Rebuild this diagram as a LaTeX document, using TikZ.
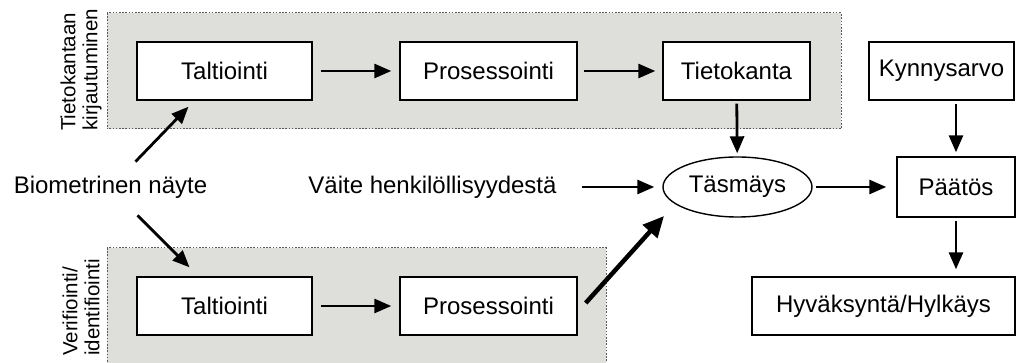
\documentclass[tikz,border=0pt]{standalone}
\usepackage{fontspec}
\setmainfont{Liberation Sans}
\usetikzlibrary{arrows.meta,shapes.geometric,calc}
\definecolor{panelgray}{RGB}{222,222,218}
\definecolor{panelline}{RGB}{90,90,90}
\tikzset{
  txt/.style={font=\fontsize{24}{28}\selectfont, inner sep=0pt},
  procbox/.style={draw, line width=1.4pt, fill=white, minimum height=58pt, inner sep=0pt, font=\fontsize{24}{28}\selectfont},
  panel/.style={fill=panelgray, draw=panelline, line width=1pt, dash pattern=on 1.6pt off 1.6pt},
  sidelabel/.style={rotate=90, anchor=west, align=left, inner sep=0pt, font=\fontsize{20.5}{22}\selectfont},
  arr/.style={line width=2.8pt, -{Triangle[length=17pt,width=14pt]}},
  thickarr/.style={line width=4.5pt, -{Triangle[length=21pt,width=19pt]}}
}
\begin{document}
\begin{tikzpicture}[x=1pt,y=-1pt]
\useasboundingbox (0,0) rectangle (1021,363);
\clip (0,0) rectangle (1021,363);
% panels
\draw[panel] (107,13) rectangle (841,129);
\draw[panel] (107,248) rectangle (606,375);
% side labels
\node[sidelabel] (lab1) at (81,131) {Tietokantaan\\kirjautuminen};
\node[sidelabel] (lab2) at (81,356) {Verifiointi/\\identifiointi};
% top row
\node[procbox, minimum width=175pt] (t1) at (224.5,71) {Taltiointi};
\node[procbox, minimum width=177pt] (p1) at (488.5,71) {Prosessointi};
\node[procbox, minimum width=147pt] (tk) at (736.5,71) {Tietokanta};
\node[procbox, minimum width=145pt] (ky) at (941.5,71) {Kynnysarvo};
% bottom row
\node[procbox, minimum width=175pt] (t2) at (224.5,306) {Taltiointi};
\node[procbox, minimum width=177pt] (p2) at (488.5,306) {Prosessointi};
\node[procbox, minimum width=263pt] (hy) at (883.5,306) {Hyväksyntä/Hylkäys};
% middle row
\node[txt] (bio) at (110.5,187) {Biometrinen näyte};
\node[txt] (vai) at (432.5,187) {Väite henkilöllisyydestä};
\node[draw, ellipse, line width=1.4pt, fill=white, minimum width=149pt, minimum height=60pt, inner sep=0pt, font=\fontsize{24}{28}\selectfont] (ta) at (737.5,187) {Täsmäys};
\node[procbox, minimum width=118pt, minimum height=60pt] (pa) at (956,187) {Päätös};
% coordinates for diagonal connectors
\coordinate (b1s) at ($(bio.north)+(25,-14)$);
\coordinate (b1e) at ($(t1.south)+(-36,6)$);
\coordinate (b2s) at ($(bio.south)+(27,17)$);
\coordinate (b2e) at ($(t2.north)+(-35,-9)$);
\coordinate (p2s) at ($(p2.east)+(8,-3)$);
\coordinate (tae) at (664,216);
% connectors
\draw[arr, shorten <=8pt, shorten >=8pt] (t1) -- (p1);
\draw[arr, shorten <=6pt, shorten >=7pt] (p1) -- (tk);
\draw[arr, shorten <=8pt, shorten >=8pt] (t2) -- (p2);
\draw[arr, shorten <=3pt, shorten >=3pt] (tk) -- (ta);
\draw[arr, shorten <=3pt, shorten >=4pt] (ky.south -| pa.north) -- (pa.north);
\draw[arr, shorten <=3pt, shorten >=7pt] (pa.south) -- (pa.south |- hy.north);
\draw[arr, shorten <=25pt, shorten >=8pt] (vai.east) -- (ta.west);
\draw[arr, shorten <=3pt, shorten >=10pt] (ta.east) -- (pa.west);
\draw[arr] (b1s) -- (b1e);
\draw[arr] (b2s) -- (b2e);
\draw[thickarr] (p2s) -- (tae);
\end{tikzpicture}
\end{document}
